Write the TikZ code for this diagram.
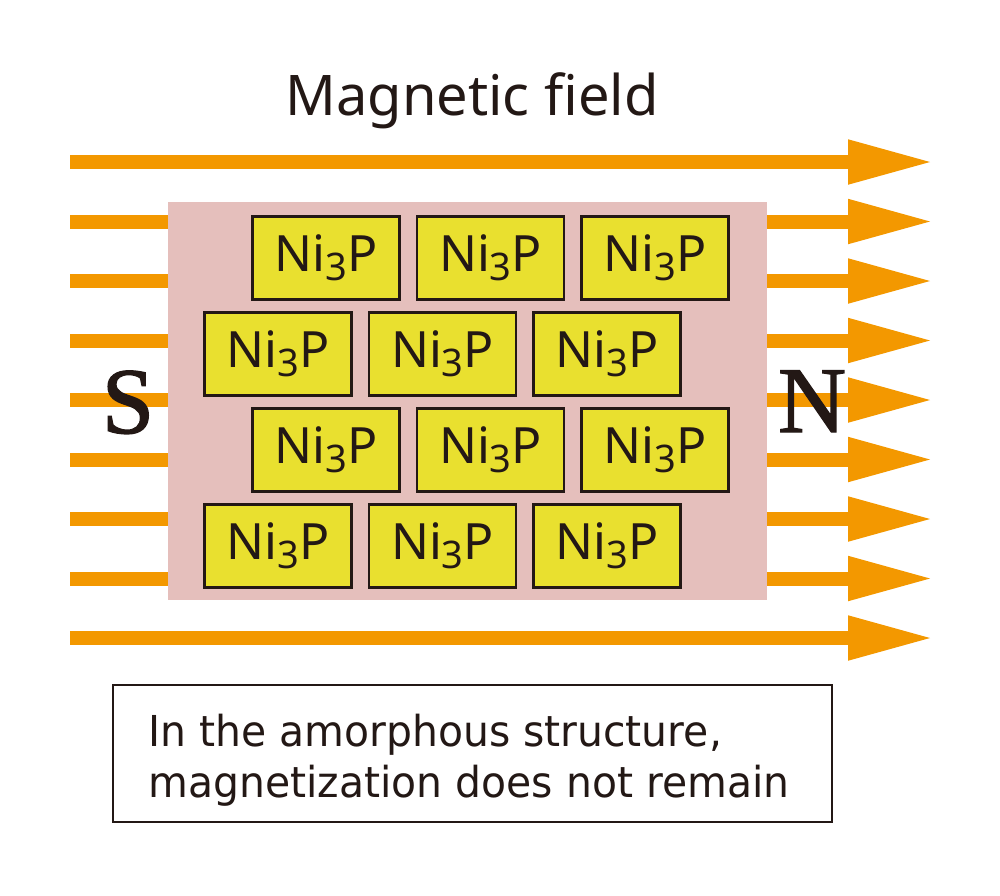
\documentclass[tikz,border=0pt]{standalone}
\usepackage{fontspec}
\setmainfont{Noto Sans}
\newfontfamily\notefont[FakeStretch=0.96]{DejaVu Sans}
\newfontfamily\polefont[FakeBold=1.5]{Liberation Serif}
\usetikzlibrary{arrows.meta}
\definecolor{mfink}{HTML}{231815}
\definecolor{mforange}{HTML}{F39800}
\definecolor{mfpink}{HTML}{E5BFBC}
\definecolor{mfyellow}{HTML}{E9E02F}
\newcommand{\nithree}{Ni\raisebox{-4.5pt}{\fontsize{19}{19}\selectfont 3}P}
\tikzset{
  mf text/.style={text=mfink},
  mf field/.style={-{Triangle[length=43pt,width=20.5pt]}, line width=7pt,
    draw=mforange},
  mf sample/.style={fill=mfpink, draw=none},
  mf grain/.style={draw=mfink, line width=1.25pt, fill=mfyellow,
    minimum width=73.5pt, minimum height=41.5pt, inner sep=0pt,
    font=\fontsize{25}{25}\selectfont, text=mfink},
  mf pole/.style={font=\polefont\fontsize{47}{47}\selectfont, text=mfink, anchor=base},
  mf note/.style={draw=mfink, line width=0.6pt, fill=white}
}
\begin{document}
\begin{tikzpicture}[mf text, x=0.5pt, y=-0.5pt]
  \useasboundingbox (0,0) rectangle (1000,895);
  \node[font=\fontsize{28}{28}\selectfont, anchor=base] (title) at (472,115) {Magnetic field};
  % field lines
  \foreach \k in {0,...,8} {
    \coordinate (in\k) at (70,162+59.5*\k);
    \coordinate (out\k) at (934,162+59.5*\k);
    \draw[mf field] (in\k) -- (out\k);
  }
  \draw[mf sample] (168,202) rectangle (767,600);
  % Ni3P grains, rows shifted against each other
  \foreach \r/\y in {1/258,2/354,3/450,4/546} {
    \pgfmathsetmacro{\xs}{isodd(\r) ? 326 : 278}
    \foreach \c in {0,1,2}
      \node[mf grain] (g\r\c) at (\xs+164.5*\c,\y) {\nithree};
  }
  \node[mf pole] (south) at (128,433) {S};
  \node[mf pole] (north) at (812,432) {N};
  \draw[mf note] (113,685) rectangle (832,822);
  \node[font=\notefont\fontsize{21.3}{25.5}\selectfont, anchor=base west, inner sep=0pt]
    (line1) at (148,746) {In the amorphous structure,};
  \node[font=\notefont\fontsize{21.3}{25.5}\selectfont, anchor=base west, inner sep=0pt]
    (line2) at (148,797) {magnetization does not remain};
\end{tikzpicture}
\end{document}
